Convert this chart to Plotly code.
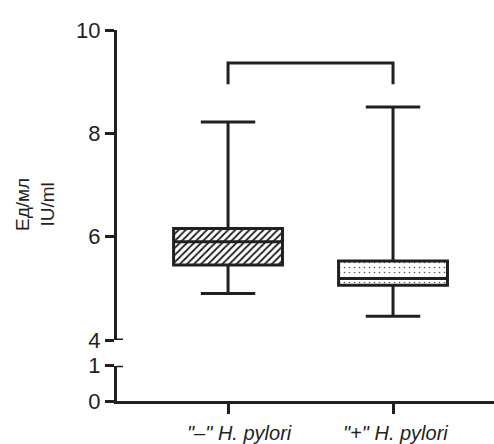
import plotly.graph_objects as go

# ---- data ----
categories = ['"–" H. pylori', '"+" H. pylori']
lower_whisker = [4.90, 4.46]
q1_vals = [5.45, 5.06]
median_vals = [5.90, 5.19]
q3_vals = [6.16, 5.53]
upper_whisker = [8.22, 8.51]
patterns = ["/", "."]
p_text = "p = 0,046"
bracket_top = 9.36
bracket_foot = 8.95
upper_ticks = [4, 6, 8, 10]
lower_ticks = [0, 1]

INK = "#231f20"
FONT = "Liberation Sans, Arial, sans-serif"
W, H = 494, 444
ML, MR, MT, MB = 117, 0, 30, 43
plot_w = W - ML - MR
plot_h = H - MT - MB

fig = go.Figure()

# patterned box fills (bars from Q1 to Q3)
for i, cat in enumerate(categories):
    hatch = patterns[i] == "/"
    fig.add_trace(go.Bar(
        x=[cat], y=[q3_vals[i] - q1_vals[i]], base=[q1_vals[i]],
        width=0.66, xaxis="x", yaxis="y2", showlegend=False,
        marker=dict(color="white", line=dict(width=0),
                    pattern=dict(shape=patterns[i],
                                 fgcolor="#1e1e1e" if hatch else "#555555",
                                 fgopacity=1, bgcolor="white",
                                 size=5,
                                 solidity=0.35 if hatch else 0.08)),
        hoverinfo="skip",
    ))

# box outlines, medians and whiskers
for i, cat in enumerate(categories):
    fig.add_trace(go.Box(
        x=[cat], q1=[q1_vals[i]], median=[median_vals[i]], q3=[q3_vals[i]],
        lowerfence=[lower_whisker[i]], upperfence=[upper_whisker[i]],
        width=0.66, whiskerwidth=0.5, boxpoints=False,
        fillcolor="rgba(0,0,0,0)", line=dict(color=INK, width=3),
        xaxis="x", yaxis="y2", showlegend=False,
    ))

# significance bracket
fig.add_trace(go.Scatter(
    x=[categories[0], categories[0], categories[1], categories[1]],
    y=[bracket_foot, bracket_top, bracket_top, bracket_foot],
    mode="lines", line=dict(color=INK, width=3),
    xaxis="x", yaxis="y2", showlegend=False, hoverinfo="skip", cliponaxis=False,
))

# axis break caps (extend right of the axis at 4 and 1)
cap = 6 / plot_w
fig.add_shape(type="line", xref="paper", yref="y2", x0=0, x1=cap,
              y0=upper_ticks[0], y1=upper_ticks[0], line=dict(color=INK, width=3))
fig.add_shape(type="line", xref="paper", yref="y", x0=0, x1=cap,
              y0=lower_ticks[-1], y1=lower_ticks[-1], line=dict(color=INK, width=3))

fig.add_annotation(text=p_text, x=0.5, xref="x", y=10.09, yref="y2",
                   showarrow=False, font=dict(family=FONT, size=20, color=INK),
                   yanchor="middle")

fig.add_annotation(text="Ед/мл<br>IU/ml", textangle=-90,
                   x=(35 - ML) / plot_w, xref="paper",
                   y=(H - MB - 205) / plot_h, yref="paper",
                   showarrow=False, font=dict(family=FONT, size=19, color=INK),
                   xanchor="center", yanchor="middle")

# category labels (italic) below the x ticks
label_shift = [11, 2]
for i, cat in enumerate(categories):
    fig.add_annotation(text="<i>" + cat + "</i>", x=i, xref="x",
                       y=0, yref="paper", yshift=-32, xshift=label_shift[i],
                       showarrow=False, yanchor="middle",
                       font=dict(family=FONT, size=20, color=INK))

lower_top = (H - MB - 365.7) / plot_h
upper_bottom = (H - MB - 340) / plot_h

axis_common = dict(showgrid=False, zeroline=False, showline=True,
                   linecolor=INK, linewidth=3, ticks="outside",
                   tickcolor=INK, tickwidth=3, ticklen=9,
                   tickfont=dict(family=FONT, size=22, color=INK))

fig.update_layout(
    width=W, height=H,
    margin=dict(l=ML, r=MR, t=MT, b=MB),
    paper_bgcolor="white", plot_bgcolor="white",
    showlegend=False, barmode="overlay",
    xaxis=dict(type="category", categoryorder="array", categoryarray=categories,
               range=[-0.673, 1.612], anchor="y", showticklabels=False,
               showgrid=False, zeroline=False, showline=True,
               linecolor=INK, linewidth=3, ticks="outside",
               tickcolor=INK, tickwidth=3, ticklen=10),
    yaxis=dict(domain=[0, lower_top], range=[0, 1], tickvals=lower_ticks,
               anchor="x", **axis_common),
    yaxis2=dict(domain=[upper_bottom, 1], range=[4, 10], tickvals=upper_ticks,
                anchor="x", **axis_common),
)

fig.write_html("out.html", config={"displayModeBar": False})
